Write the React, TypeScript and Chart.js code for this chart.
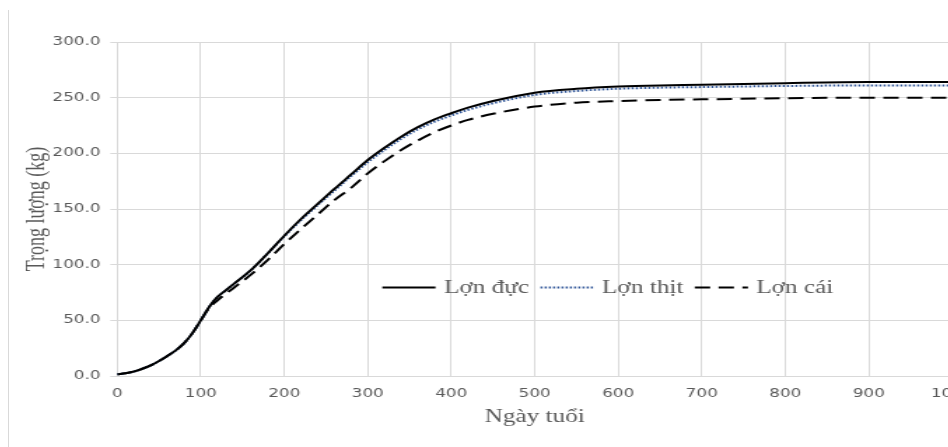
import React, { useEffect, useRef } from "react";
import { Chart, registerables } from "chart.js";

Chart.register(...registerables);

const days = [0, 10, 20, 30, 40, 50, 60, 70, 80, 90, 100, 110, 120, 130, 140, 160, 180, 200, 220, 240, 260, 280, 300, 320, 340, 360, 380, 400, 420, 450, 500, 550, 600, 650, 700, 800, 900, 1000];

const lonDuc = [1.5, 2.5, 4, 6.5, 9.5, 13.5, 18, 23, 29.5, 38.5, 50, 62, 71, 77, 83, 95, 110, 126, 141, 154.5, 168, 181, 194, 205, 215, 223.5, 230.5, 236, 241, 247, 254.5, 258, 260, 261, 261.5, 263, 264, 264];
const lonThit = [1.5, 2.5, 4, 6.5, 9.5, 13.5, 18, 23, 29.5, 38.5, 50, 62, 71, 77, 83, 95, 110, 125.5, 140, 153.5, 166.5, 179.5, 192, 203, 213, 221.5, 228.5, 234, 239, 245, 252.5, 256, 258, 259, 259.5, 260.5, 261, 261];
const lonCai = [1.5, 2.5, 4, 6.5, 9.5, 13.5, 18, 23, 29.5, 38.5, 50, 61, 68, 74, 79.5, 91, 104, 118.5, 132, 145, 158, 169, 182, 193, 203, 211.5, 219, 225, 230, 235.5, 242, 245.5, 247, 248, 248.5, 249.5, 250, 250];

const seriesNames = ["Lợn đực", "Lợn thịt", "Lợn cái"];
const xTitle = "Ngày tuổi";
const yTitle = "Trọng lượng (kg)";

const GRID = "#d9d9d9";
const TEXT = "#595959";

const legendPlugin = {
  id: "innerLegend",
  afterDraw(chart: any) {
    const ctx = chart.ctx;
    const area = chart.chartArea;
    ctx.save();
    ctx.font = '18px "Liberation Serif"';
    ctx.textBaseline = "middle";
    let x = area.left + 189.3;
    const y = area.top + 245.5;
    chart.data.datasets.forEach((ds: any) => {
      const len = 38;
      ctx.beginPath();
      ctx.setLineDash(ds.borderDash || []);
      ctx.lineWidth = ds.borderWidth;
      ctx.strokeStyle = ds.borderColor;
      ctx.moveTo(x, y);
      ctx.lineTo(x + len, y);
      ctx.stroke();
      ctx.setLineDash([]);
      x += len + 6;
      ctx.fillStyle = TEXT;
      ctx.fillText(ds.label, x, y + 1);
      x += ctx.measureText(ds.label).width + 8.2;
    });
    ctx.restore();
  },
};

export default function App() {
  const ref = useRef<HTMLCanvasElement>(null);
  useEffect(() => {
    if (!ref.current) return;
    const mk = (vals: number[]) => days.map((d, i) => ({ x: d, y: vals[i] }));
    const chart = new Chart(ref.current, {
      type: "line",
      data: {
        datasets: [
          { label: seriesNames[0], data: mk(lonDuc), borderColor: "#000000", borderWidth: 2, pointRadius: 0, cubicInterpolationMode: "monotone", fill: false },
          { label: seriesNames[1], data: mk(lonThit), borderColor: "#2f5597", borderWidth: 2, borderDash: [1.5, 1.5], pointRadius: 0, cubicInterpolationMode: "monotone", fill: false },
          { label: seriesNames[2], data: mk(lonCai), borderColor: "#000000", borderWidth: 2, borderDash: [11, 6], pointRadius: 0, cubicInterpolationMode: "monotone", fill: false },
        ],
      },
      options: {
        responsive: false,
        animation: false,
        devicePixelRatio: 1,
        layout: { padding: { left: 4, right: 20.7, top: 32, bottom: 19 } },
        plugins: { legend: { display: false }, tooltip: { enabled: false } },
        scales: {
          x: {
            type: "linear",
            min: 0,
            max: 1000,
            ticks: { stepSize: 100, color: TEXT, font: { family: "DejaVu Sans", size: 12 }, padding: 11, maxRotation: 0, callback: (v: any) => String(v) },
            grid: { color: GRID, lineWidth: 1, drawTicks: false },
            border: { color: GRID },
            title: { display: true, text: xTitle, color: TEXT, font: { family: "Liberation Serif", size: 18 }, padding: { top: -6, bottom: 0 } },
          },
          y: {
            min: 0,
            max: 300,
            ticks: { stepSize: 50, color: TEXT, font: { family: "DejaVu Sans", size: 12 }, padding: 7, callback: (v: any) => Number(v).toFixed(1) },
            grid: { color: GRID, lineWidth: 1, tickLength: 5 },
            border: { color: GRID },
            title: { display: true, text: yTitle, color: TEXT, font: { family: "Liberation Serif", size: 18 }, padding: { top: 5, bottom: -6.6 } },
          },
        },
      },
      plugins: [legendPlugin],
    } as any);
    return () => chart.destroy();
  }, []);
  return (
    <div style={{ position: "fixed", left: 8, top: 10, width: 940, height: 437, overflow: "hidden", borderLeft: "1px solid #d9d9d9", background: "#fff" }}>
      <div style={{ width: 700, height: 437, transform: "scaleX(1.4)", transformOrigin: "left top" }}>
        <canvas ref={ref} width={700} height={437} style={{ width: 700, height: 437, display: "block" }} />
      </div>
    </div>
  );
}
